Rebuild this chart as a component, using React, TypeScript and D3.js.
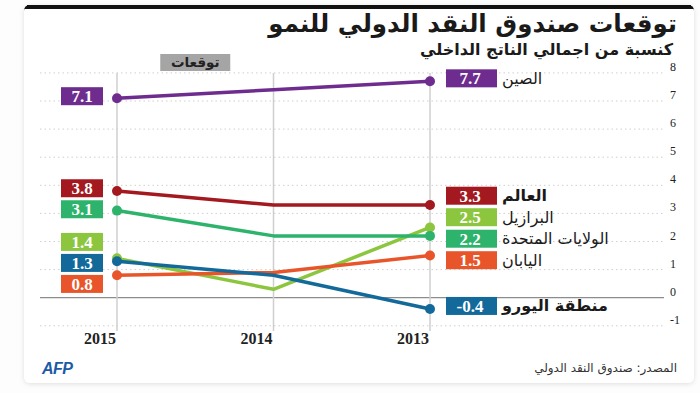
import React, { useRef, useEffect } from 'react';
import * as d3 from 'd3';

const years = ['2015', '2014', '2013'];
const countries = ['الصين', 'العالم', 'البرازيل', 'الولايات المتحدة', 'اليابان', 'منطقة اليورو'];
const growth2015 = [7.1, 3.8, 1.4, 3.1, 0.8, 1.3];
const growth2014 = [7.4, 3.3, 0.3, 2.2, 0.9, 0.8];
const growth2013 = [7.7, 3.3, 2.5, 2.2, 1.5, -0.4];
const colors = ['#6e2c8f', '#a3191f', '#8cc63f', '#2db36b', '#e9552a', '#12699a'];
const boldNames = [false, true, false, false, false, true];
const yTicks = [-1, 0, 1, 2, 3, 4, 5, 6, 7, 8];

const arabic = '"DejaVu Sans", "Noto Sans", sans-serif';
const serif = '"Liberation Serif", "DejaVu Serif", serif';

// push overlapping labels apart, keeping each cluster centred on its targets
function spread(targets: number[], gap: number): number[] {
  const order = targets.map((t, i) => i).sort((a, b) => targets[a] - targets[b]);
  let groups = order.map(i => ({ idx: [i], top: targets[i] }));
  let moved = true;
  while (moved) {
    moved = false;
    for (let k = 0; k < groups.length - 1; k++) {
      const a = groups[k], b = groups[k + 1];
      if (a.top + a.idx.length * gap > b.top) {
        const idx = a.idx.concat(b.idx);
        const mean = d3.mean(idx, i => targets[i]) as number;
        groups.splice(k, 2, { idx, top: mean - (idx.length - 1) * gap / 2 });
        moved = true;
        break;
      }
    }
  }
  const out: number[] = new Array(targets.length);
  groups.forEach(g => g.idx.forEach((i, j) => { out[i] = g.top + j * gap; }));
  return out;
}

export default function App() {
  const svgRef = useRef<SVGSVGElement>(null);

  useEffect(() => {
    if (!svgRef.current) return;
    const width = 700, height = 393;
    const svg = d3.select(svgRef.current);
    svg.selectAll('*').remove();

    const x = d3.scalePoint<string>().domain(years).range([117, 430]);
    const y = d3.scaleLinear().domain([-1, 8]).range([325.8, 72.9]);

    // card
    const defs = svg.append('defs');
    const f = defs.append('filter').attr('id', 'shadow').attr('x', -0.05).attr('y', -0.05).attr('width', 1.1).attr('height', 1.1);
    f.append('feDropShadow').attr('dx', 0).attr('dy', 1).attr('stdDeviation', 2.5).attr('flood-color', '#000').attr('flood-opacity', 0.12);

    svg.append('rect').attr('width', width).attr('height', height).attr('fill', '#fdfdfd');
    svg.append('rect')
      .attr('x', 24).attr('y', 5).attr('width', 670).attr('height', 378)
      .attr('rx', 6).attr('fill', '#fff').attr('filter', 'url(#shadow)');
    svg.append('path')
      .attr('d', 'M24,11 Q24,5 30,5 L688,5 Q694,5 694,11 L694,9 L24,9 Z')
      .attr('fill', '#111');
    svg.append('rect').attr('x', 27).attr('y', 5).attr('width', 664).attr('height', 4).attr('fill', '#111');

    // titles
    svg.append('text')
      .attr('x', 677).attr('y', 32)
      .attr('text-anchor', 'end')
      .attr('font-family', arabic).attr('font-weight', 'bold').attr('font-size', 24.5)
      .attr('fill', '#1a1a1a')
      .text('توقعات صندوق النقد الدولي للنمو');
    svg.append('text')
      .attr('x', 673).attr('y', 55)
      .attr('text-anchor', 'end')
      .attr('font-family', arabic).attr('font-weight', 'bold').attr('font-size', 16)
      .attr('fill', '#1a1a1a')
      .text('كنسبة من اجمالي الناتج الداخلي');

    // forecast tag
    const fx = ((x('2015') as number) + (x('2014') as number)) / 2;
    svg.append('rect')
      .attr('x', fx - 35).attr('y', 54).attr('width', 70).attr('height', 17)
      .attr('fill', '#a5a5a5');
    svg.append('text')
      .attr('x', fx).attr('y', 67)
      .attr('text-anchor', 'middle')
      .attr('font-family', arabic).attr('font-weight', 'bold').attr('font-size', 13.5)
      .attr('fill', '#222')
      .text('توقعات');

    // grid
    yTicks.forEach(t => {
      svg.append('line')
        .attr('x1', 40).attr('x2', 664)
        .attr('y1', y(t)).attr('y2', y(t))
        .attr('stroke', t === 0 ? '#8c8c8c' : '#cfcfcf')
        .attr('stroke-width', t === 0 ? 1.2 : 1)
        .attr('stroke-dasharray', t === 0 ? null : '1.5,3');
      svg.append('text')
        .attr('x', 670).attr('y', y(t) - 2)
        .attr('font-family', serif).attr('font-size', 12)
        .attr('fill', '#222')
        .text(String(t));
    });

    years.forEach(yr => {
      svg.append('line')
        .attr('x1', x(yr) as number).attr('x2', x(yr) as number)
        .attr('y1', y(8)).attr('y2', 331)
        .attr('stroke', '#cfcfcf').attr('stroke-width', 1.5);
      svg.append('text')
        .attr('x', (x(yr) as number) - 17).attr('y', 344)
        .attr('text-anchor', 'middle')
        .attr('font-family', serif).attr('font-weight', 'bold').attr('font-size', 16)
        .attr('fill', '#222')
        .text(yr);
    });

    // lines
    const line = d3.line<[string, number]>()
      .x(d => x(d[0]) as number)
      .y(d => y(d[1]));

    countries.forEach((c, i) => {
      const pts: [string, number][] = [
        ['2015', growth2015[i]],
        ['2014', growth2014[i]],
        ['2013', growth2013[i]],
      ];
      svg.append('path')
        .datum(pts)
        .attr('fill', 'none')
        .attr('stroke', colors[i])
        .attr('stroke-width', 3.5)
        .attr('stroke-linejoin', 'round')
        .attr('d', line);
      [pts[0], pts[2]].forEach(p => {
        svg.append('circle')
          .attr('cx', x(p[0]) as number).attr('cy', y(p[1]))
          .attr('r', 5).attr('fill', colors[i]);
      });
    });

    // left value boxes (2015)
    const leftY = spread(growth2015.map(v => y(v) - 2), 21);
    countries.forEach((c, i) => {
      const cy = leftY[i];
      svg.append('rect')
        .attr('x', 61).attr('y', cy - 9).attr('width', 42).attr('height', 18)
        .attr('fill', colors[i]);
      svg.append('text')
        .attr('x', 82).attr('y', cy + 6)
        .attr('text-anchor', 'middle')
        .attr('font-family', serif).attr('font-weight', 'bold').attr('font-size', 17)
        .attr('fill', '#fff')
        .text(growth2015[i].toFixed(1));
    });

    // right value boxes + names (2013)
    const rightY = spread(growth2013.map(v => y(v) - 3), 21.5);
    countries.forEach((c, i) => {
      const cy = rightY[i];
      svg.append('rect')
        .attr('x', 446).attr('y', cy - 9).attr('width', 51).attr('height', 18)
        .attr('fill', colors[i]);
      svg.append('text')
        .attr('x', 470).attr('y', cy + 6)
        .attr('text-anchor', 'middle')
        .attr('font-family', serif).attr('font-weight', 'bold').attr('font-size', 17)
        .attr('fill', '#fff')
        .text(growth2013[i].toFixed(1));
      svg.append('text')
        .attr('x', 502).attr('y', cy + 5.5)
        .attr('font-family', arabic)
        .attr('font-weight', boldNames[i] ? 'bold' : 'normal')
        .attr('font-size', 16)
        .attr('fill', '#1a1a1a')
        .text(c);
    });

    // footer
    svg.append('text')
      .attr('x', 42).attr('y', 374)
      .attr('font-family', '"Liberation Sans", Arial, sans-serif')
      .attr('font-weight', 'bold').attr('font-style', 'italic').attr('font-size', 16)
      .attr('letter-spacing', -0.5)
      .attr('fill', '#1d5aa6')
      .text('AFP');
    svg.append('text')
      .attr('x', 677).attr('y', 372)
      .attr('text-anchor', 'end')
      .attr('font-family', arabic).attr('font-size', 12)
      .attr('fill', '#333')
      .text('المصدر: صندوق النقد الدولي');
  }, []);

  return (
    <div style={{ position: 'absolute', left: 0, top: 0 }}>
      <svg ref={svgRef} width={700} height={393} style={{ display: 'block' }} />
    </div>
  );
}
